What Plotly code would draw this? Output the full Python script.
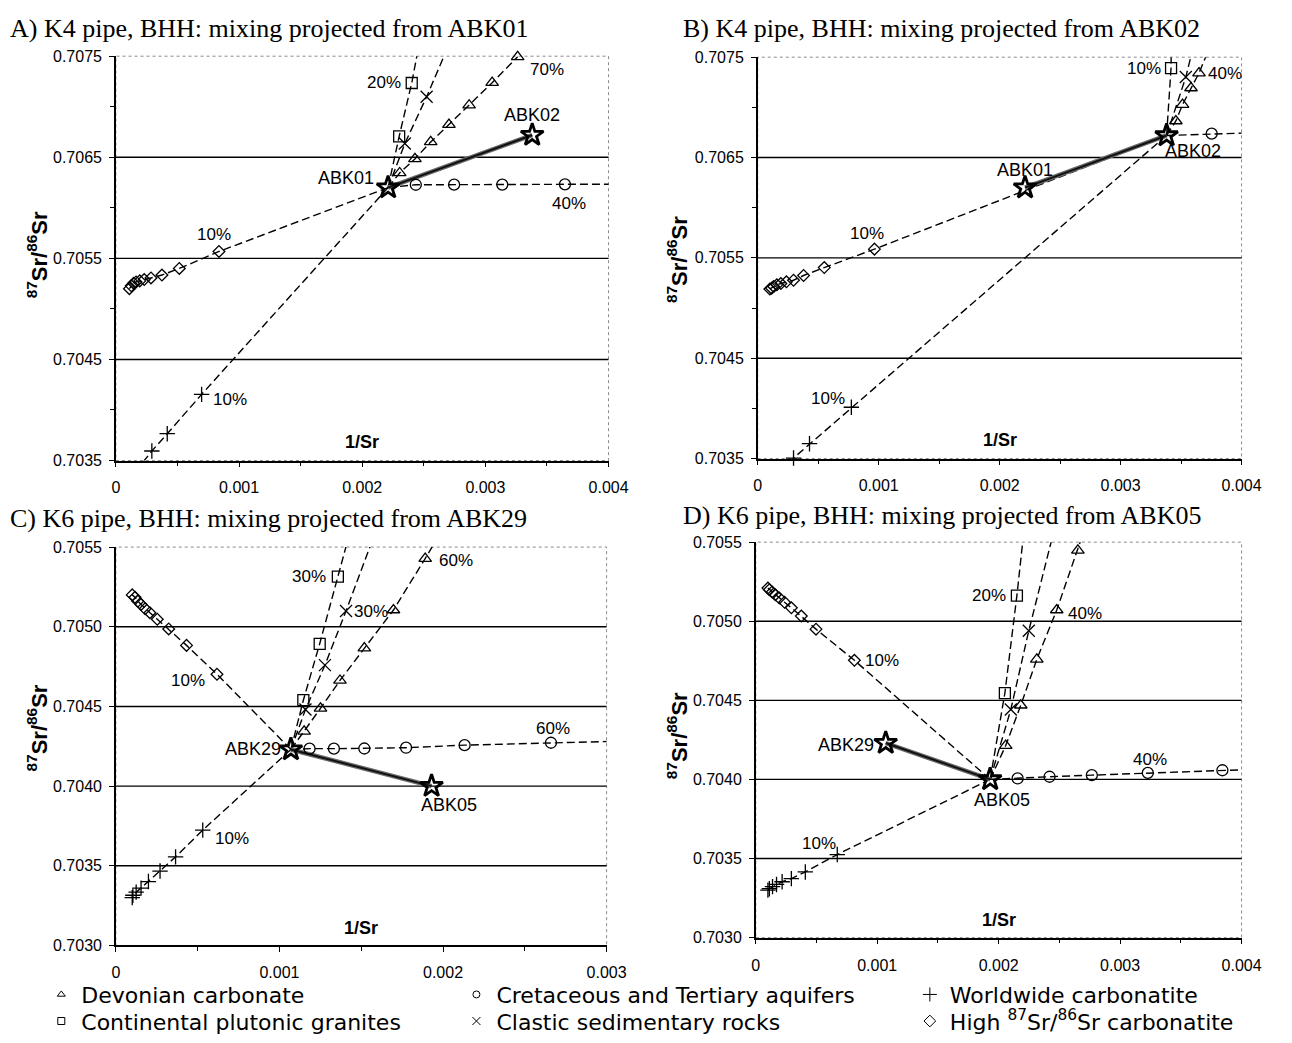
import plotly.graph_objects as go

# ---------------- data (1/Sr, 87Sr/86Sr) ----------------
ABK01 = (0.00221, 0.70620)
ABK02 = (0.00338, 0.70672)
ABK29 = (0.00107, 0.70423)
ABK05 = (0.00193, 0.70400)

# Panel A: mixing projected from ABK01 (10 % steps, last values run off the axes)
A_DEV_X = [0.002304, 0.002428, 0.002556, 0.002704, 0.002868, 0.003055, 0.003262]
A_DEV_Y = [0.706345, 0.706484, 0.706652, 0.706824, 0.707015, 0.707238, 0.707494]
A_GRA_X = [0.002300, 0.002402, 0.002490]
A_GRA_Y = [0.706707, 0.707235, 0.707800]
A_CRE_X = [0.002435, 0.002746, 0.003137, 0.003646, 0.004300]
A_CRE_Y = [0.706228, 0.706229, 0.706230, 0.706232, 0.706235]
A_CLA_X = [0.002346, 0.002523, 0.002720]
A_CLA_Y = [0.706636, 0.707099, 0.707660]
A_WWC_X = [0.000696, 0.000417, 0.000292, 0.000100]
A_WWC_Y = [0.704154, 0.703765, 0.703594, 0.703300]
A_HSC_X = [0.000837, 0.000515, 0.000374, 0.000285, 0.000230, 0.000194, 0.000164, 0.000144, 0.000125, 0.000110]
A_HSC_Y = [0.705568, 0.705400, 0.705335, 0.705306, 0.705290, 0.705277, 0.705267, 0.705254, 0.705228, 0.705200]

# Panel B: mixing projected from ABK02
B_DEV_X = [0.003457, 0.003512, 0.003582, 0.003648, 0.003730]
B_DEV_Y = [0.706864, 0.707028, 0.707193, 0.707342, 0.707580]
B_GRA_X = [0.003417, 0.003420]
B_GRA_Y = [0.707391, 0.707800]
B_CRE_X = [0.003753, 0.004200]
B_CRE_Y = [0.706738, 0.706750]
B_CLA_X = [0.003539, 0.003610]
B_CLA_Y = [0.707302, 0.707650]
B_WWC_X = [0.000774, 0.000428, 0.000296, 0.000100]
B_WWC_Y = [0.704011, 0.703648, 0.703505, 0.703300]
B_HSC_X = [0.000965, 0.000550, 0.000379, 0.000296, 0.000237, 0.000191, 0.000158, 0.000132, 0.000115, 0.000100]
B_HSC_Y = [0.705587, 0.705403, 0.705324, 0.705277, 0.705261, 0.705244, 0.705231, 0.705215, 0.705198, 0.705190]

# Panel C: mixing projected from ABK29
C_DEV_X = [0.001151, 0.001251, 0.001370, 0.001519, 0.001697, 0.001891, 0.002090]
C_DEV_Y = [0.704344, 0.704488, 0.704663, 0.704866, 0.705105, 0.705428, 0.705770]
C_GRA_X = [0.001146, 0.001246, 0.001357, 0.001480]
C_GRA_Y = [0.704539, 0.704893, 0.705315, 0.705780]
C_CRE_X = [0.001184, 0.001333, 0.001519, 0.001774, 0.002132, 0.002660, 0.003400]
C_CRE_Y = [0.704235, 0.704235, 0.704236, 0.704241, 0.704257, 0.704272, 0.704290]
C_CLA_X = [0.001159, 0.001278, 0.001407, 0.001600]
C_CLA_Y = [0.704481, 0.704759, 0.705099, 0.705630]
C_WWC_X = [0.000531, 0.000365, 0.000270, 0.000199, 0.000154, 0.000124, 0.000104, 0.000100]
C_WWC_Y = [0.703724, 0.703556, 0.703467, 0.703401, 0.703360, 0.703335, 0.703315, 0.703300]
C_HSC_X = [0.000618, 0.000432, 0.000323, 0.000253, 0.000208, 0.000179, 0.000154, 0.000134, 0.000117, 0.000100]
C_HSC_Y = [0.704702, 0.704883, 0.704986, 0.705047, 0.705088, 0.705113, 0.705140, 0.705160, 0.705185, 0.705200]

# Panel D: mixing projected from ABK05
D_DEV_X = [0.002058, 0.002182, 0.002314, 0.002478, 0.002652, 0.002850]
D_DEV_Y = [0.704214, 0.704469, 0.704759, 0.705071, 0.705448, 0.705900]
D_GRA_X = [0.002051, 0.002150, 0.002240]
D_GRA_Y = [0.704546, 0.705162, 0.705800]
D_CRE_X = [0.002156, 0.002419, 0.002767, 0.003228, 0.003842, 0.004700]
D_CRE_Y = [0.704006, 0.704017, 0.704027, 0.704041, 0.704058, 0.704080]
D_CLA_X = [0.002100, 0.002248, 0.002530]
D_CLA_Y = [0.704442, 0.704940, 0.705800]
D_WWC_X = [0.000671, 0.000408, 0.000293, 0.000217, 0.000171, 0.000138, 0.000112, 0.000100]
D_WWC_Y = [0.703525, 0.703415, 0.703373, 0.703353, 0.703336, 0.703322, 0.703309, 0.703300]
D_HSC_X = [0.000812, 0.000496, 0.000375, 0.000293, 0.000237, 0.000194, 0.000161, 0.000135, 0.000112, 0.000100]
D_HSC_Y = [0.704753, 0.704950, 0.705033, 0.705085, 0.705120, 0.705147, 0.705168, 0.705185, 0.705199, 0.705210]

SERIES_NAMES = {
    "DEV": "Devonian carbonate",
    "GRA": "Continental plutonic granites",
    "CRE": "Cretaceous and Tertiary aquifers",
    "CLA": "Clastic sedimentary rocks",
    "WWC": "Worldwide carbonatite",
    "HSC": "High <sup>87</sup>Sr/<sup>86</sup>Sr carbonatite",
}

# ---------------- styling ----------------
SYMBOL = {"DEV": "triangle-up-open", "GRA": "square-open", "CRE": "circle-open",
          "CLA": "x-thin-open", "WWC": "cross-thin-open", "HSC": "diamond-open"}
MSIZE = {"DEV": 11, "GRA": 11, "CRE": 11, "CLA": 12, "WWC": 11, "HSC": 9}
SANS = "Liberation Sans, Arial, sans-serif"
LEGFONT = "DejaVu Sans, Liberation Sans, sans-serif"
SERIF = "Liberation Serif, Times New Roman, serif"
W, H = 1292, 1043

G = globals()
PANELS = [
    dict(key="A", ax="", anchor=ABK01, other=ABK02, aname="ABK01", oname="ABK02",
         xr=[0, 0.004], yr=[0.7035, 0.7075], ydt=0.001, xpx=(114, 616), ypx=(49, 460),
         title="A) K4 pipe, BHH: mixing projected from ABK01", tpos=(4, 21), ylab=(34, 251),
         alab=dict(xanchor="right", xshift=-12, yshift=10), olab=dict(xanchor="center", xshift=0, yshift=20),
         labels=[("GRA", 1, "20%", "right", -9, 0), ("DEV", 6, "70%", "left", 10, -13),
                 ("CRE", 3, "40%", "center", 4, -19), ("HSC", 0, "10%", "center", -5, 17),
                 ("WWC", 0, "10%", "left", 9, -5)]),
    dict(key="B", ax="2", anchor=ABK02, other=ABK01, aname="ABK02", oname="ABK01",
         xr=[0, 0.004], yr=[0.7035, 0.7075], ydt=0.001, xpx=(768, 1261), ypx=(50, 458),
         title="B) K4 pipe, BHH: mixing projected from ABK02", tpos=(690, 21), ylab=(686, 256),
         alab=dict(xanchor="left", xshift=-4, yshift=-16), olab=dict(xanchor="center", xshift=0, yshift=18),
         labels=[("GRA", 0, "10%", "right", -8, 0), ("DEV", 3, "40%", "left", 7, 0),
                 ("HSC", 0, "10%", "center", -7, 16), ("WWC", 0, "10%", "right", -4, 9)]),
    dict(key="C", ax="3", anchor=ABK29, other=ABK05, aname="ABK29", oname="ABK05",
         xr=[0, 0.003], yr=[0.7030, 0.7055], ydt=0.0005, xpx=(114, 614), ypx=(548, 953),
         title="C) K6 pipe, BHH: mixing projected from ABK29", tpos=(4, 519), ylab=(34, 732),
         alab=dict(xanchor="right", xshift=-8, yshift=0), olab=dict(xanchor="center", xshift=17, yshift=-19),
         labels=[("HSC", 0, "10%", "right", -10, -6), ("WWC", 0, "10%", "left", 10, -8),
                 ("GRA", 2, "30%", "right", -10, 0), ("CLA", 2, "30%", "left", 6, -1),
                 ("DEV", 5, "60%", "left", 12, -2), ("CRE", 5, "60%", "center", 2, 14)]),
    dict(key="D", ax="4", anchor=ABK05, other=ABK29, aname="ABK05", oname="ABK29",
         xr=[0, 0.004], yr=[0.7030, 0.7055], ydt=0.0005, xpx=(766, 1261), ypx=(543, 945),
         title="D) K6 pipe, BHH: mixing projected from ABK05", tpos=(690, 516), ylab=(686, 740),
         alab=dict(xanchor="center", xshift=12, yshift=-21), olab=dict(xanchor="right", xshift=-10, yshift=-2),
         labels=[("GRA", 1, "20%", "right", -9, 0), ("DEV", 3, "40%", "left", 9, -3),
                 ("HSC", 0, "10%", "left", 9, 0), ("CRE", 3, "40%", "center", 2, 13),
                 ("WWC", 0, "10%", "center", -18, 11)]),
]

fig = go.Figure()
annotations = []
shapes = []
layout = {}

for p in PANELS:
    xa, ya = "x" + p["ax"], "y" + p["ax"]
    xr, yr = p["xr"], p["yr"]

    def inside(x, y):
        return xr[0] <= x <= xr[1] and yr[0] <= y <= yr[1]

    pts = {}
    for s in ["HSC", "WWC", "CRE", "DEV", "GRA", "CLA"]:
        xs = G[f"{p['key']}_{s}_X"]
        ys = G[f"{p['key']}_{s}_Y"]
        pts[s] = (xs, ys)
        # dashed mixing line from the projection sample
        fig.add_trace(go.Scatter(
            x=[p["anchor"][0]] + xs, y=[p["anchor"][1]] + ys, xaxis=xa, yaxis=ya,
            mode="lines", line=dict(color="black", width=1.4, dash="8px,4px"),
            showlegend=False, hoverinfo="skip"))
    # thick line between the two samples
    fig.add_trace(go.Scatter(
        x=[p["anchor"][0], p["other"][0]], y=[p["anchor"][1], p["other"][1]],
        xaxis=xa, yaxis=ya, mode="lines", line=dict(color="#6a6a6a", width=4.5),
        showlegend=False, hoverinfo="skip"))
    fig.add_trace(go.Scatter(
        x=[p["anchor"][0], p["other"][0]], y=[p["anchor"][1], p["other"][1]],
        xaxis=xa, yaxis=ya, mode="lines", line=dict(color="#111111", width=2),
        showlegend=False, hoverinfo="skip"))
    for s in ["HSC", "WWC", "CRE", "DEV", "GRA", "CLA"]:
        xs, ys = pts[s]
        keep = [(x, y) for x, y in zip(xs, ys) if inside(x, y)]
        fig.add_trace(go.Scatter(
            x=[k[0] for k in keep], y=[k[1] for k in keep], xaxis=xa, yaxis=ya,
            mode="markers", cliponaxis=False,
            marker=dict(symbol=SYMBOL[s], size=MSIZE[s], color="black",
                        line=dict(color="black", width=1.3)),
            showlegend=False, name=SERIES_NAMES[s]))
    # samples as stars
    fig.add_trace(go.Scatter(
        x=[p["anchor"][0], p["other"][0]], y=[p["anchor"][1], p["other"][1]],
        xaxis=xa, yaxis=ya, mode="markers", cliponaxis=False,
        marker=dict(symbol="star-open", size=17, color="black", line=dict(color="black", width=2.8)),
        showlegend=False))

    # axes
    x0, x1 = p["xpx"]
    y0, y1 = p["ypx"]
    layout["xaxis" + p["ax"]] = dict(
        domain=[x0 / W, x1 / W], anchor=ya, range=xr, tick0=0, dtick=0.001,
        showgrid=False, zeroline=False, showline=True, linecolor="black", linewidth=1.5,
        ticks="outside", ticklen=5, tickcolor="black", tickwidth=1, ticklabelstandoff=7,
        minor=dict(dtick=0.0005, tick0=0, ticks="outside", ticklen=4, tickcolor="black", showgrid=False),
        tickfont=dict(family=SANS, size=16, color="black"))
    layout["yaxis" + p["ax"]] = dict(
        domain=[1 - y1 / H, 1 - y0 / H], anchor=xa, range=yr, tick0=yr[0], dtick=p["ydt"],
        tickformat=".4f", showgrid=False, zeroline=False, showline=True, linecolor="black",
        linewidth=1.5, ticks="outside", ticklen=5, tickcolor="black", tickwidth=1, ticklabelstandoff=4,
        minor=dict(dtick=0.0005, tick0=yr[0], ticks="outside", ticklen=4, tickcolor="black", showgrid=False),
        tickfont=dict(family=SANS, size=16, color="black"))

    # dotted plot frame
    shapes.append(dict(type="rect", xref=xa + " domain", yref=ya + " domain", x0=0, x1=1, y0=0, y1=1,
                       line=dict(color="#8a8a8a", width=1, dash="dot"), layer="below"))
    # horizontal gridlines at the labelled values inside the range
    n = round((yr[1] - yr[0]) / p["ydt"])
    for i in range(1, n):
        gy = yr[0] + i * p["ydt"]
        shapes.append(dict(type="line", xref=xa + " domain", yref=ya, x0=0, x1=1, y0=gy, y1=gy,
                           line=dict(color="black", width=1.4), layer="below"))

    # titles and axis labels
    annotations.append(dict(text=p["title"], xref="paper", yref="paper", x=p["tpos"][0] / W,
                            y=1 - p["tpos"][1] / H, xanchor="left", yanchor="middle", showarrow=False,
                            font=dict(family=SERIF, size=26, color="black")))
    annotations.append(dict(text="<b><sup>87</sup>Sr/<sup>86</sup>Sr</b>", xref="paper", yref="paper",
                            x=p["ylab"][0] / W, y=1 - p["ylab"][1] / H, textangle=-90, showarrow=False,
                            xanchor="center", yanchor="middle",
                            font=dict(family=SANS, size=22, color="black")))
    annotations.append(dict(text="<b>1/Sr</b>", xref=xa + " domain", yref=ya + " domain", x=0.5, y=0.045,
                            xanchor="center", yanchor="middle", showarrow=False,
                            font=dict(family=SANS, size=18, color="black")))
    # sample labels
    for pt, nm, st in [(p["anchor"], p["aname"], p["alab"]), (p["other"], p["oname"], p["olab"])]:
        annotations.append(dict(text=nm, xref=xa, yref=ya, x=pt[0], y=pt[1], showarrow=False,
                                yanchor="middle", font=dict(family=SANS, size=18, color="black"), **st))
    # percentage labels
    for s, idx, txt, xan, xsh, ysh in p["labels"]:
        xs, ys = pts[s]
        annotations.append(dict(text=txt, xref=xa, yref=ya, x=xs[idx], y=ys[idx], showarrow=False,
                                xanchor=xan, yanchor="middle", xshift=xsh, yshift=ysh,
                                font=dict(family=SANS, size=17, color="black")))

# legend: one legend box per entry, laid out as 3 columns x 2 rows
LEG_ITEMS = [("legend", "DEV", 38, 1003), ("legend2", "GRA", 38, 1030),
             ("legend3", "CRE", 461, 1003), ("legend4", "CLA", 461, 1030),
             ("legend5", "WWC", 923, 1003), ("legend6", "HSC", 923, 1030)]
LEG_SIZE = {"DEV": 7, "GRA": 7, "CRE": 7, "CLA": 8, "WWC": 10, "HSC": 9}
for lg, s, lx, ly in LEG_ITEMS:
    fig.add_trace(go.Scatter(x=[None], y=[None], mode="markers", name=SERIES_NAMES[s], legend=lg,
                             marker=dict(symbol=SYMBOL[s], size=LEG_SIZE[s], color="black",
                                         line=dict(color="black", width=1)),
                             showlegend=True))
    layout[lg] = dict(x=lx / W, y=1 - ly / H, xanchor="left", yanchor="middle",
                      bgcolor="rgba(0,0,0,0)", borderwidth=0,
                      font=dict(family=LEGFONT, size=22, color="black"))

fig.update_layout(
    width=W, height=H, margin=dict(l=0, r=0, t=0, b=0),
    paper_bgcolor="white", plot_bgcolor="white",
    annotations=annotations, shapes=shapes, **layout)

fig.write_html("out.html")
